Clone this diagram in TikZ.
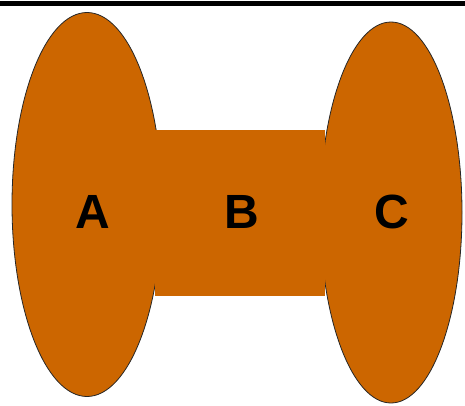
\documentclass[tikz,border=0pt]{standalone}
\usepackage{fontspec}
\setmainfont{Liberation Sans}
\definecolor{spool}{HTML}{CC6600}
\begin{document}
\begin{tikzpicture}[x=1pt,y=1pt,
  lobe/.style={fill=spool,draw=black!85,line width=0.8pt},
  lbl/.style={anchor=base,font=\fontsize{48}{48}\selectfont\bfseries,text=black,inner sep=0pt}]
\useasboundingbox (0,0) rectangle (465,405);
\fill[black] (0,399) rectangle (465,403.5);
\path[lobe] (87,200.5) ellipse [x radius=75, y radius=192];
\path[lobe] (391,192.5) ellipse [x radius=71, y radius=190.5];
\fill[spool] (155,109.5) rectangle (325,275.5);
\node[lbl] (a) at (92.5,177) {A};
\node[lbl] (b) at (242,177) {B};
\node[lbl] (c) at (392,177) {C};
\end{tikzpicture}
\end{document}
